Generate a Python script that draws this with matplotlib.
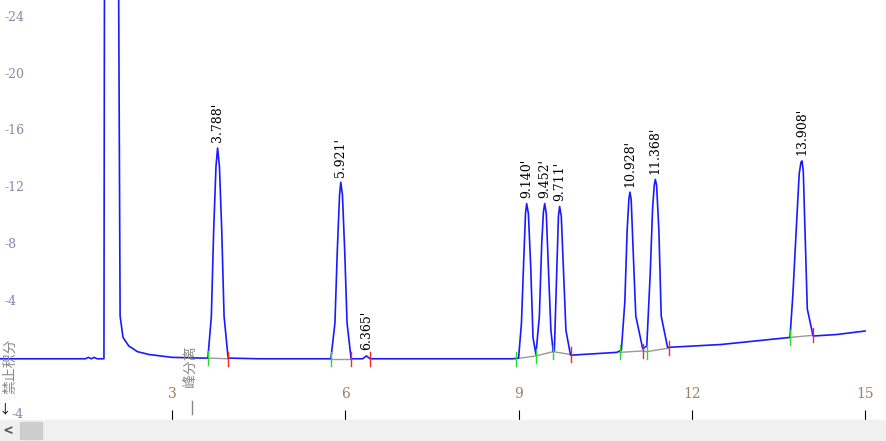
import matplotlib
matplotlib.use("Agg")
import matplotlib.pyplot as plt
import numpy as np
from matplotlib.patches import Rectangle

plt.rcParams['font.family'] = ['Noto Sans CJK SC', 'DejaVu Sans']

# chromatogram trace (time, min ; signal)
t = [0.0, 1.5, 1.55, 1.6, 1.65, 1.7, 1.82, 1.83, 2.07, 2.1, 2.15, 2.25, 2.4, 2.6, 3.0, 3.5,
     3.62, 3.68, 3.72, 3.76, 3.788, 3.82, 3.86, 3.9, 3.97, 4.5,
     5.75, 5.82, 5.86, 5.9, 5.921, 5.95, 5.99, 6.03, 6.1, 6.3, 6.365, 6.43, 8.9,
     9.0, 9.05, 9.09, 9.12, 9.140, 9.17, 9.21, 9.25, 9.3, 9.36, 9.4, 9.43, 9.452, 9.48, 9.52, 9.56, 9.6,
     9.62, 9.66, 9.69, 9.711, 9.74, 9.78, 9.82, 9.9, 10.7,
     10.78, 10.84, 10.88, 10.91, 10.928, 10.95, 10.99, 11.03, 11.15, 11.22, 11.28, 11.32, 11.35, 11.368, 11.39, 11.43,
     11.47, 11.58, 12.5, 13.7, 13.75, 13.82, 13.86, 13.89, 13.908, 13.93, 13.96, 14.0, 14.1, 14.5, 15.0]
y = [0.0, 0.0, 0.1, 0.0, 0.1, 0.0, 0.0, 30.0, 30.0, 3.0, 1.5, 0.9, 0.5, 0.3, 0.1, 0.05,
     0.05, 3.0, 9.0, 13.5, 14.8, 13.5, 9.0, 3.0, 0.05, 0.0,
     0.0, 2.5, 7.5, 11.5, 12.4, 11.5, 7.5, 2.5, 0.0, 0.0, 0.2, 0.0, 0.0,
     0.05, 2.5, 7.0, 10.2, 10.9, 10.2, 6.5, 1.5, 0.3, 3.0, 8.0, 10.3, 10.9, 10.2, 6.0, 2.0, 0.5,
     0.6, 6.0, 10.0, 10.7, 10.0, 6.0, 2.0, 0.25, 0.45,
     0.6, 4.0, 9.0, 11.2, 11.7, 11.2, 7.0, 3.0, 0.7, 0.9, 6.0, 10.5, 12.2, 12.6, 12.2, 9.0,
     3.0, 0.8, 1.0, 1.5, 4.5, 10.0, 13.0, 13.8, 13.9, 13.2, 9.0, 3.5, 1.6, 1.7, 1.95]

peak_rt = [3.788, 5.921, 6.365, 9.140, 9.452, 9.711, 10.928, 11.368, 13.908]
peak_h = [14.8, 12.4, 0.2, 10.9, 10.9, 10.7, 11.7, 12.6, 13.9]
peak_lbl = ["3.788'", "5.921'", "6.365'", "9.140'", "9.452'", "9.711'", "10.928'", "11.368'", "13.908'"]

start_marks = [3.62, 5.75, 8.95, 9.3, 9.6, 10.75, 11.22, 13.7]
start_vals = [0.05, 0.0, 0.0, 0.2, 0.5, 0.45, 0.5, 1.5]
end_marks = [3.97, 6.1, 6.43, 9.9, 11.15, 11.6, 14.1]
end_vals = [0.0, 0.0, 0.0, 0.3, 0.55, 0.75, 1.65]

bl_x = [[3.62, 3.97], [5.75, 6.1], [8.95, 9.3, 9.6, 9.9], [10.75, 11.15, 11.22, 11.6], [13.7, 14.1]]
bl_y = [[0.05, 0.0], [0.0, 0.0], [0.0, 0.2, 0.5, 0.3], [0.45, 0.55, 0.5, 0.75], [1.5, 1.65]]

fig = plt.figure(figsize=(8.87, 4.41), dpi=100)
ax = fig.add_axes([0, 21/441, 1, 420/441])
for s in ax.spines.values():
    s.set_visible(False)

for bx, by in zip(bl_x, bl_y):
    ax.plot(bx, by, color='#999999', lw=1)
ax.plot(t, y, color='#1a1aff', lw=1.2)
for x0, v in zip(start_marks, start_vals):
    ax.plot([x0, x0], [v - 0.5, v + 0.5], color='#22dd22', lw=1)
for x0, v in zip(end_marks, end_vals):
    ax.plot([x0, x0], [v - 0.5, v + 0.5], color='#ff2222', lw=1)

for rt, h, lb in zip(peak_rt, peak_h, peak_lbl):
    ax.text(rt, h + 0.4, lb, rotation=90, ha='center', va='bottom', fontsize=9,
            family=['DejaVu Serif'])

ax.set_xlim(0.02, 15.38)
ax.set_ylim(-4.3, 25.2)
ax.set_xticks([3, 6, 9, 12, 15])
ax.set_xticklabels(['3', '6', '9', '12', '15'])
ax.tick_params(axis='x', direction='in', length=7, pad=-24, colors='black',
               labelcolor='#a08060', labelsize=10)
for lab in ax.get_xticklabels():
    lab.set_family('DejaVu Serif')
ax.set_yticks([])
for v in [24, 20, 16, 12, 8, 4]:
    ax.text(0.1, v, '-' + str(v), va='center', ha='left', fontsize=9, color='#8888aa',
            family=['DejaVu Serif'])
ax.text(0.22, -3.9, '-4', va='center', ha='left', fontsize=9, color='#8888aa', family=['DejaVu Serif'])
ax.text(0.0, -3.6, '↓', va='center', ha='left', fontsize=9, color='black')
ax.text(0.2, -0.5, '禁止积分', rotation=90, ha='center', va='center', fontsize=10, color='#888888')
ax.text(3.3, -0.5, '峰分离', rotation=90, ha='center', va='center', fontsize=10, color='#888888')
ax.plot([3.35, 3.35], [-3.0, -3.9], color='#888888', lw=1)

# scrollbar
fig.patches.append(Rectangle((0, 0), 1, 21/441, transform=fig.transFigure, color='#f0f0f0', zorder=0))
fig.patches.append(Rectangle((20/887, 2/441), 22/887, 17/441, transform=fig.transFigure, color='#cdcdcd'))
fig.text(8/887, 10/441, '<', fontsize=11, va='center', ha='center', color='#555555', weight='bold')

fig.savefig('out.png', dpi=100)
